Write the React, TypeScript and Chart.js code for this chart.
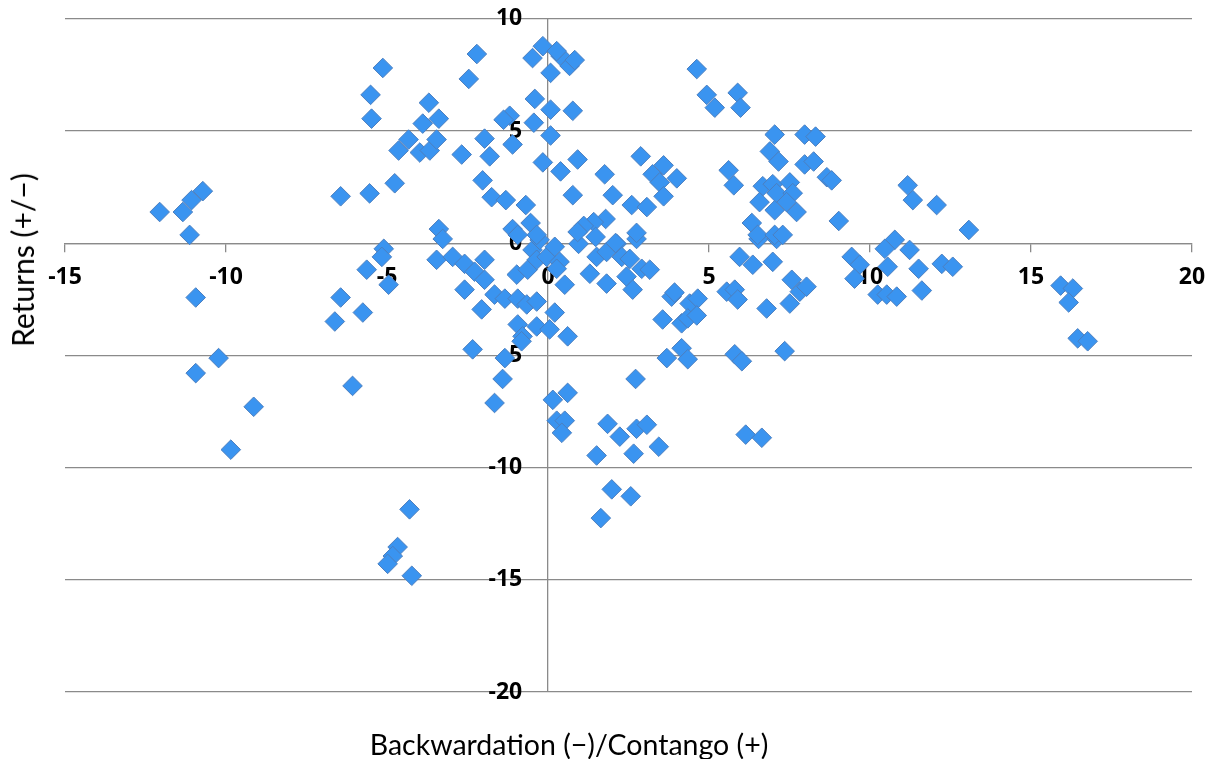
import React, { useEffect, useRef } from "react";
import { Chart, registerables } from "chart.js";

Chart.register(...registerables);

// Backwardation (−) / Contango (+) values (x)
const backwardationContango: number[] = [
  -12.06, -11.34, -11.07, -10.72, -11.13, -10.94, -10.94, -10.23, -9.14, -9.85,
  -6.44, -5.54, -4.76, -5.13, -5.51, -5.48, -3.7, -3.89, -3.39, -4.33,
  -4.64, -3.98, -3.67, -3.46, -3.39, -3.27, -5.1, -5.16, -5.63, -4.95,
  -6.44, -5.75, -6.62, -6.07, -4.3, -4.67, -4.82, -4.98, -4.23, -3.46,
  -2.96, -2.59, -2.28, -1.97, -1.97, -2.59, -2.06, -1.66, -1.34, -0.94,
  -0.66, -0.35, -0.97, -0.63, -0.48, -0.26, -0.35, -0.04, 0.21, 0.36,
  0.27, 0.52, -0.94, -0.35, -0.79, -0.82, 0.05, 0.21, 0.61, -2.34,
  -1.34, -1.41, -1.66, 0.15, 0.61, 0.27, 0.52, 0.43, 1.85, 2.23,
  2.75, 3.07, 2.66, 1.51, 3.44, 2.72, 1.98, 1.64, 2.57, 0.95,
  1.3, 1.51, 1.82, 1.82, 2.13, 2.29, 2.44, 2.54, 2.63, 2.91,
  3.16, 2.75, 3.56, 3.84, 3.93, 4.4, 4.65, 4.15, 4.34, 4.62,
  3.69, 4.15, 4.34, 5.55, 5.8, 5.89, 5.95, 6.36, 6.98, 6.79,
  7.51, 7.57, 7.82, 8.03, 5.8, 6.02, 7.35, 6.14, 6.64, 6.54,
  7.1, 9.43, 9.68, 10.55, 9.52, 11.51, 12.23, 12.57, 11.23, 10.77,
  10.46, 10.24, 10.52, 10.83, 11.61, 11.17, 11.33, 12.07, 13.07, 9.03,
  15.92, 16.3, 16.17, 16.45, 16.76, 5.61, 5.77, 6.67, 6.98, 7.1,
  7.51, 7.6, 7.41, 6.57, 7.04, 7.72, 6.33, 6.51, 7.04, 7.29,
  7.04, 6.89, 7.16, 7.97, 8.31, 7.97, 8.25, 8.66, 8.81, 4.62,
  4.93, 5.18, 5.89, 5.98, 0.77, 1.76, 2.01, 2.6, 3.07, 2.88,
  3.59, 3.25, 3.47, 4.0, 3.59, 2.75, 1.79, 1.42, 1.11, 0.92,
  1.48, 2.1, 0.92, 0.39, -0.16, 0.08, 0.08, 0.77, -0.41, -0.44,
  -0.16, -0.48, 0.39, 0.67, 0.08, 0.83, 0.27, -2.21, -2.46, -2.68,
  -1.97, -1.81, -1.1, -1.19, -1.38, -2.03, -1.75, -1.31, -0.69, -0.54,
  -0.35, -1.1, -0.94,
];

// Returns (+/−) values (y)
const returns: number[] = [
  1.39, 1.39, 1.92, 2.32, 0.37, -2.42, -5.79, -5.12, -7.29, -9.2,
  2.09, 2.22, 2.67, 7.81, 6.61, 5.55, 6.26, 5.33, 5.55, 4.62,
  4.13, 4.04, 4.13, 4.62, 0.63, 0.19, -0.25, -0.61, -1.18, -1.85,
  -2.42, -3.09, -3.49, -6.36, -11.86, -13.54, -13.94, -14.29, -14.82, -0.74,
  -0.61, -0.92, -1.27, -0.74, -1.63, -2.07, -2.95, -2.29, -2.47, -2.47,
  -2.73, -2.6, -1.4, -1.18, -0.3, 0.15, -0.74, -0.61, -0.16, -0.83,
  -1.14, -1.85, -3.62, -3.71, -4.15, -4.37, -3.84, -3.09, -4.15, -4.73,
  -5.12, -6.05, -7.12, -6.98, -6.67, -7.91, -7.91, -8.45, -8.05, -8.62,
  -8.27, -8.09, -9.38, -9.46, -9.07, -6.05, -10.97, -12.25, -11.28, -0.03,
  -1.36, -0.61, -1.8, -0.39, -0.03, -0.61, -1.49, -0.7, -2.07, -1.14,
  -1.18, 0.19, -3.4, -2.38, -2.2, -2.69, -2.47, -3.57, -3.35, -3.22,
  -5.12, -4.68, -5.17, -2.16, -2.07, -2.51, -0.61, -0.96, -0.83, -2.91,
  -2.69, -1.63, -2.16, -1.94, -4.95, -5.26, -4.81, -8.53, -8.67, 0.19,
  0.19, -0.61, -0.96, -1.05, -1.58, -1.14, -0.92, -1.05, -0.3, 0.15,
  -0.25, -2.29, -2.29, -2.38, -2.11, 2.58, 1.92, 1.7, 0.59, 0.99,
  -1.89, -2.02, -2.64, -4.24, -4.37, 3.25, 2.58, 2.54, 2.63, 2.23,
  2.71, 2.23, 1.83, 1.83, 1.47, 1.39, 0.9, 0.37, 0.37, 0.37,
  4.84, 4.09, 3.64, 4.84, 4.75, 3.51, 3.64, 2.94, 2.8, 7.76,
  6.61, 6.04, 6.7, 6.04, 2.14, 3.07, 2.14, 1.7, 1.61, 3.87,
  3.47, 3.07, 2.71, 2.89, 2.09, 0.46, 1.08, 0.94, 0.77, 0.5,
  0.28, 0.01, 3.73, 3.2, 3.6, 4.8, 5.95, 5.9, 6.43, 5.37,
  8.78, 8.25, 8.34, 7.9, 7.59, 8.16, 8.56, 8.43, 7.32, 3.95,
  4.66, 3.87, 4.4, 5.68, 5.5, 2.8, 2.05, 1.92, 1.7, 0.9,
  0.37, 0.63, 0.37,
];

const xTitle = "Backwardation (−)/Contango (+)";
const yTitle = "Returns (+/−)";

const GRID = "#8a8a8a";
const TITLE_FONT = "Lato, 'Open Sans', sans-serif";
const TICK_FONT = "'Open Sans', 'Noto Sans', sans-serif";

export default function App() {
  const ref = useRef<HTMLCanvasElement | null>(null);

  useEffect(() => {
    if (!ref.current) return;
    const points = backwardationContango.map((x, i) => ({ x, y: returns[i] }));
    const tickFont = { family: TICK_FONT, size: 23, weight: "bold" };
    const chart = new Chart(ref.current, {
      type: "scatter",
      data: {
        datasets: [
          {
            data: points,
            xAxisID: "x",
            yAxisID: "y",
            pointStyle: "rectRot",
            pointRadius: 9.8,
            pointHoverRadius: 9.8,
            pointBackgroundColor: "#3A94F0",
            pointBorderColor: "#4C7FBF",
            pointBorderWidth: 1,
          },
        ],
      },
      options: {
        animation: false,
        responsive: true,
        maintainAspectRatio: false,
        layout: { padding: { left: 57, right: 17, top: 8, bottom: 67 } },
        plugins: {
          legend: { display: false },
          tooltip: { enabled: false },
        },
        scales: {
          // axis lines, grid and tick marks (under the points)
          x: {
            type: "linear",
            position: { y: 0 } as any,
            min: -15,
            max: 20,
            ticks: { stepSize: 5, display: false, autoSkip: false },
            grid: {
              color: (ctx: any) => (ctx.tick && ctx.tick.value === 0 ? GRID : "rgba(0,0,0,0)"),
              tickColor: GRID,
              tickLength: 8,
              lineWidth: 1.3,
              tickWidth: 1.3,
              drawTicks: true,
            },
            border: { display: true, color: GRID, width: 1.3 },
          },
          y: {
            type: "linear",
            position: { x: 0 } as any,
            min: -20,
            max: 10,
            ticks: { stepSize: 5, display: false },
            grid: { color: GRID, lineWidth: 1.3, drawTicks: false },
            border: { display: false },
          },
          // tick labels (drawn above the points)
          xLabels: {
            type: "linear",
            axis: "x",
            position: { y: 0 } as any,
            min: -15,
            max: 20,
            z: 1,
            ticks: {
              stepSize: 5,
              padding: 0,
              maxRotation: 0,
              autoSkip: false,
              color: "#000",
              font: { ...tickFont, lineHeight: "69px" } as any,
            },
            grid: { display: false, drawTicks: false },
            border: { display: false },
          },
          yLabels: {
            type: "linear",
            axis: "y",
            position: { x: -0.8 } as any,
            min: -20,
            max: 10,
            z: 1,
            ticks: {
              stepSize: 5,
              padding: 0,
              color: "#000",
              font: { ...tickFont, lineHeight: 0.65 } as any,
            },
            grid: { display: false, drawTicks: false },
            border: { display: false },
          },
        } as any,
      },
    });
    return () => chart.destroy();
  }, []);

  return (
    <div style={{ position: "relative", width: 1201, height: 751, fontFamily: TITLE_FONT }}>
      <canvas ref={ref} />
      <div
        style={{
          position: "absolute",
          left: 561,
          top: 722,
          transform: "translateX(-50%)",
          whiteSpace: "nowrap",
          fontSize: 28.5,
          lineHeight: 1,
          color: "#000",
        }}
      >
        {xTitle}
      </div>
      <div
        style={{
          position: "absolute",
          left: 14,
          top: 252,
          transform: "translate(-50%, -50%) rotate(-90deg)",
          whiteSpace: "nowrap",
          fontSize: 30,
          lineHeight: 1,
          color: "#000",
        }}
      >
        {yTitle}
      </div>
    </div>
  );
}
